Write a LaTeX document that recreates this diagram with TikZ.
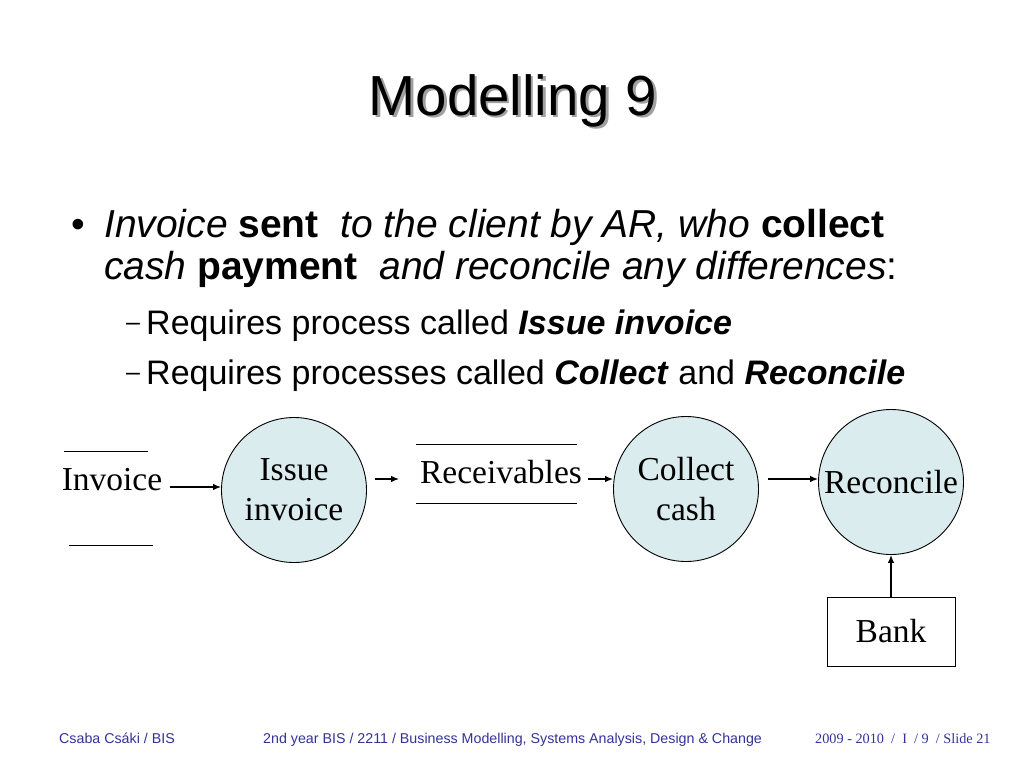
\documentclass[tikz,border=0pt]{standalone}
\usepackage{fontspec}
\setmainfont{Liberation Serif}
\setsansfont{Liberation Sans}
\usetikzlibrary{arrows.meta,shapes.geometric}
\definecolor{procfill}{RGB}{219,236,239}
\definecolor{footblue}{RGB}{51,51,153}
\definecolor{shadowgray}{RGB}{160,160,160}
\tikzset{
  titletext/.style={font=\sffamily\fontsize{56.5}{60}\selectfont, inner sep=0, anchor=base},
  bodytext/.style={font=\sffamily\fontsize{39}{42}\selectfont, inner sep=0, anchor=base west},
  subtext/.style={font=\sffamily\fontsize{34}{38}\selectfont, inner sep=0, anchor=base west},
  dashtext/.style={font=\sffamily\fontsize{25}{28}\selectfont, inner sep=0, anchor=base west},
  dgtext/.style={font=\rmfamily\fontsize{33.5}{40}\selectfont},
  process/.style={circle, draw=black, line width=0.9pt, fill=procfill, minimum size=145, inner sep=0, align=center, dgtext},
  extbox/.style={rectangle, draw=black, line width=0.9pt, fill=white, minimum width=128, minimum height=69, inner sep=0, dgtext},
  storeline/.style={draw=black, line width=1pt},
  arr/.style={draw=black, line width=1.2pt, -{Latex[length=8pt,width=6.5pt]}},
  foottext/.style={font=\sffamily\fontsize{14.25}{16}\selectfont, text=footblue, inner sep=0, anchor=base west},
  footserif/.style={font=\rmfamily\fontsize{14.25}{16}\selectfont, text=footblue, inner sep=0, anchor=base west},
}
\begin{document}
\begin{tikzpicture}[x=1pt, y=-1pt]
\useasboundingbox[fill=white] (0,0) rectangle (1024,768);

% title with shadow
\node[titletext, text=shadowgray] (titleshadow) at (515.5,117.5) {Modelling 9};
\node[titletext] (title) at (513,115) {Modelling 9};

% bullet text
\node[bodytext] (bul) at (71,237) {•};
\node[bodytext] (l1) at (104,237) {\itshape Invoice \textbf{\upshape sent}\ \ to the client by AR, who \textbf{\upshape collect}};
\node[bodytext] (l2) at (104,279) {\itshape cash \textbf{\upshape payment}\ \ and reconcile any differences\upshape :};
\node[dashtext] (d3) at (126,330.5) {–};
\node[subtext] (l3) at (146,334) {Requires process called \textbf{\itshape Issue invoice}};
\node[dashtext] (d4) at (126,380.5) {–};
\node[subtext] (l4) at (146,384) {Requires processes called \textbf{\itshape Collect} and \textbf{\itshape Reconcile}};

% diagram
\node[dgtext, inner sep=0, anchor=base] (inv) at (112,490) {Invoice};
\draw[storeline] (64,451) -- (148,451);
\draw[storeline] (69,545) -- (153,545);

\node[process] (iss) at (294,490) {Issue\\invoice};

\node[dgtext, inner sep=0, anchor=base] (rec) at (501,483) {Receivables};
\draw[storeline] (416,444) -- (577,444);
\draw[storeline] (416,503) -- (577,503);

\node[process] (col) at (686,489) {Collect\\cash};
\node[process] (recon) at (891,482) {Reconcile};
\node[extbox] (bank) at (891,631.5) {Bank};

\coordinate (a1s) at (170,487);
\coordinate (a2s) at (375,479);
\coordinate (a2e) at (399,479);
\coordinate (a3s) at (588,479);
\coordinate (a4s) at (768,479);

\draw[arr] (a1s) -- (a1s -| iss.west);
\draw[arr] (a2s) -- (a2e);
\draw[arr] (a3s) -- (a3s -| col.west);
\draw[arr] (a4s) -- (a4s -| recon.west);
\draw[arr] (bank.north) -- (recon.south);

% footer
\node[foottext] (f1) at (59,743) {Csaba Csáki / BIS};
\node[foottext] (f2) at (263,743) {2nd year BIS / 2211 / Business Modelling, Systems Analysis, Design \& Change};
\node[footserif] (f3) at (815,743) {2009 - 2010~ /~ I~ / 9~ / Slide 21};
\end{tikzpicture}
\end{document}
